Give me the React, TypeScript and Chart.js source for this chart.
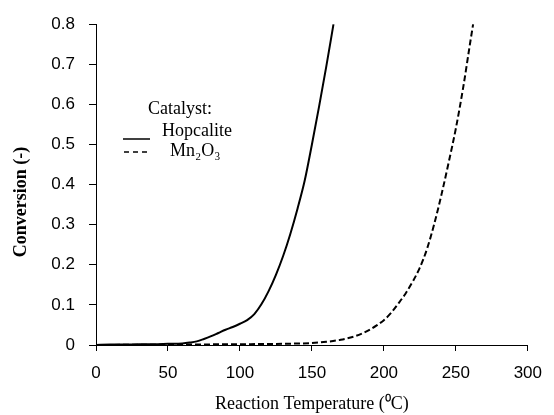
import React, { useEffect, useRef } from "react";
import { Chart, registerables } from "chart.js";

Chart.register(...registerables);

const hopcaliteTemps = [0, 10, 20, 30, 40, 50, 60, 65, 70, 75, 80, 85, 90, 95, 100, 105, 110, 115, 120, 125, 130, 135, 140, 145, 150, 155, 160, 165];
const hopcaliteConv = [0, 0.001, 0.001, 0.002, 0.002, 0.003, 0.004, 0.006, 0.009, 0.015, 0.022, 0.03, 0.038, 0.045, 0.053, 0.062, 0.077, 0.102, 0.135, 0.175, 0.222, 0.277, 0.34, 0.41, 0.5, 0.595, 0.695, 0.8];

const mnTemps = [0, 50, 100, 130, 150, 160, 170, 180, 185, 190, 195, 200, 205, 210, 215, 220, 225, 230, 235, 240, 245, 250, 255, 260, 262];
const mnConv = [0, 0.001, 0.002, 0.003, 0.005, 0.008, 0.013, 0.022, 0.029, 0.038, 0.049, 0.062, 0.08, 0.103, 0.128, 0.158, 0.193, 0.24, 0.302, 0.375, 0.455, 0.54, 0.64, 0.755, 0.8];

const seriesNames = ["Hopcalite", "Mn₂O₃"];
const legendTitle = "Catalyst:";
const xTitle = "Reaction Temperature (⁰C)";
const yTitle = "Conversion (-)";

const xMin = 0, xMax = 300, xStep = 50;
const yMin = 0, yMax = 0.8, yStep = 0.1;

const serif = "'Liberation Serif', 'Times New Roman', serif";
const sans = "'Liberation Sans', Arial, sans-serif";

const annotationPlugin = {
  id: "customLegendAndTitle",
  afterDraw(chart: any) {
    const ctx = chart.ctx;
    ctx.save();
    ctx.fillStyle = "#000";
    ctx.strokeStyle = "#000";
    // y axis title
    ctx.save();
    ctx.translate(21, 202);
    ctx.rotate(-Math.PI / 2);
    ctx.font = `bold 18px ${serif}`;
    ctx.textAlign = "center";
    ctx.textBaseline = "middle";
    ctx.fillText(yTitle, 0, 0);
    ctx.restore();

    // legend
    ctx.font = `18px ${serif}`;
    ctx.textBaseline = "middle";
    ctx.textAlign = "center";
    ctx.fillText(legendTitle, 180, 109);
    ctx.textAlign = "left";
    ctx.fillText(seriesNames[0], 162, 131);
    ctx.fillText(seriesNames[1], 170, 151);

    ctx.lineWidth = 1.5;
    ctx.setLineDash([]);
    ctx.beginPath();
    ctx.moveTo(123, 139);
    ctx.lineTo(150, 139);
    ctx.stroke();

    ctx.setLineDash([5, 4]);
    ctx.beginPath();
    ctx.moveTo(124, 152);
    ctx.lineTo(149, 152);
    ctx.stroke();
    ctx.restore();
  },
};

export default function App() {
  const ref = useRef<HTMLCanvasElement | null>(null);

  useEffect(() => {
    if (!ref.current) return;
    const chart = new Chart(ref.current, {
      type: "line",
      data: {
        datasets: [
          {
            label: seriesNames[0],
            data: hopcaliteTemps.map((t, i) => ({ x: t, y: hopcaliteConv[i] })),
            borderColor: "#000",
            borderWidth: 2,
            pointRadius: 0,
            cubicInterpolationMode: "monotone",
            fill: false,
          },
          {
            label: seriesNames[1],
            data: mnTemps.map((t, i) => ({ x: t, y: mnConv[i] })),
            borderColor: "#000",
            borderWidth: 2,
            borderDash: [6, 3],
            pointRadius: 0,
            cubicInterpolationMode: "monotone",
            fill: false,
          },
        ],
      },
      options: {
        responsive: false,
        animation: false,
        layout: { padding: { top: 24, right: 18, left: 0, bottom: 0 } },
        plugins: {
          legend: { display: false },
          tooltip: { enabled: false },
        },
        scales: {
          x: {
            type: "linear",
            min: xMin,
            max: xMax,
            afterFit: (s: any) => {
              s.height = 70;
            },
            ticks: {
              stepSize: xStep,
              color: "#000",
              font: { family: sans, size: 17 },
              padding: 12,
            },
            grid: {
              drawOnChartArea: false,
              drawTicks: true,
              tickLength: 6,
              color: "#000",
            },
            border: { display: true, color: "#000", width: 1 },
            title: {
              display: true,
              text: xTitle,
              color: "#000",
              font: { family: serif, size: 18 },
              padding: { top: 0, bottom: 0 },
            },
          },
          y: {
            type: "linear",
            min: yMin,
            max: yMax,
            afterFit: (s: any) => {
              s.width = 96;
            },
            ticks: {
              stepSize: yStep,
              color: "#000",
              font: { family: sans, size: 17 },
              padding: 14,
            },
            grid: {
              drawOnChartArea: false,
              drawTicks: true,
              tickLength: 7,
              color: "#000",
            },
            border: { display: true, color: "#000", width: 1 },
          },
        },
      } as any,
      plugins: [annotationPlugin],
    });
    return () => chart.destroy();
  }, []);

  return (
    <div style={{ position: "fixed", left: 0, top: 0, width: 554, height: 415, background: "#fff" }}>
      <canvas ref={ref} width={554} height={415} />
    </div>
  );
}
